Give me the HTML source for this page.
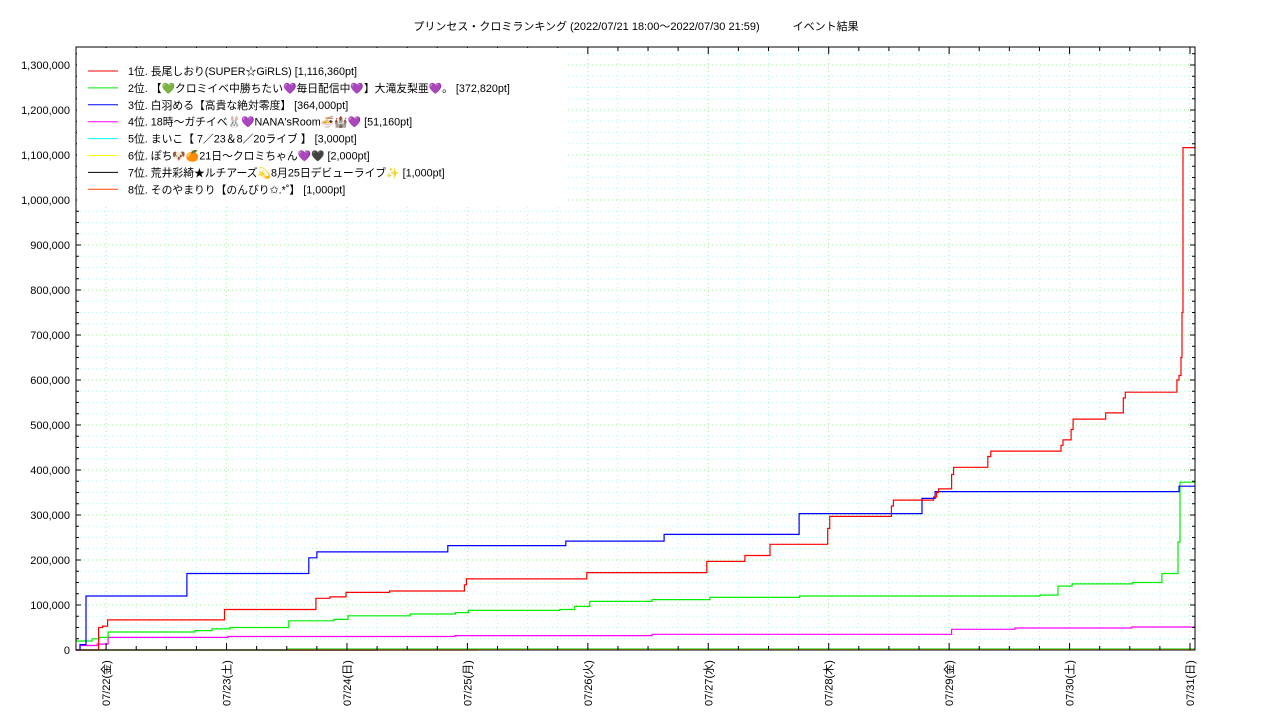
<!DOCTYPE html>
<html><head><meta charset="utf-8"><style>
html,body{margin:0;padding:0;background:#fff;}
svg{display:block;font-family:"Liberation Sans","Noto Sans CJK JP",sans-serif;}
</style></head><body>
<svg id="chart" width="1280" height="720" viewBox="0 0 1280 720">
<text x="636" y="30" font-size="11" text-anchor="middle">プリンセス・クロミランキング (2022/07/21 18:00〜2022/07/30 21:59)　　　イベント結果</text>
<g id="grid"></g>
<g id="series"></g>
<g id="axes"></g>
<g id="legend"></g>
</svg>
<script>
// time in hours since 07/21 18:00, values in points
const dayLabels = ["07/22(金)","07/23(土)","07/24(日)","07/25(月)","07/26(火)","07/27(水)","07/28(木)","07/29(金)","07/30(土)","07/31(日)"];
const yTicks = [0,100000,200000,300000,400000,500000,600000,700000,800000,900000,1000000,1100000,1200000,1300000];
const legendNames = ["1位. 長尾しおり(SUPER☆GiRLS) [1,116,360pt]","2位. 【💚クロミイベ中勝ちたい💜毎日配信中💜】大滝友梨亜💜。 [372,820pt]","3位. 白羽める【高貴な絶対零度】 [364,000pt]","4位. 18時〜ガチイベ🐰💜NANA'sRoom🍜🏰💜 [51,160pt]","5位. まいこ【 7／23＆8／20ライブ 】 [3,000pt]","6位. ぽち🐶🍊21日〜クロミちゃん💜🖤 [2,000pt]","7位. 荒井彩綺★ルチアーズ💫8月25日デビューライブ✨ [1,000pt]","8位. そのやまりり【のんびり✩.*˚】 [1,000pt]"];
const colors = ["#ff0000","#00ee00","#0000ff","#ff00ff","#00ffff","#ffff00","#000000","#ff4500"];
const s1t=[0,4.5,5.3,6.3,29.6,47.8,50.6,53.8,62.5,77.4,77.8,101.8,125.7,133.3,138.3,149.8,150.2,162.5,162.9,170.9,171.5,171.9,174.5,174.9,181.7,182.3,196.3,196.7,198.3,198.7,205.2,208.7,209.1,219.4,219.8,220.2,220.4,220.6,223];
const s1v=[0,50000,53000,67000,90000,115000,118000,128000,131000,145000,158000,172000,197000,210000,235000,270000,297000,320000,333000,340000,350000,358000,390000,406000,430000,442000,455000,467000,490000,513000,527000,560000,573000,600000,610000,650000,750000,1116360,1116360];
const s2t=[0,3.2,4.6,6.4,23.7,27.1,30.7,42.4,51.4,54.2,66.6,75.6,78.2,96.4,99.4,102.4,114.8,126.3,144.2,192.1,195.7,198.5,210.6,216.4,219.6,220.0,223];
const s2v=[20000,25000,28000,40000,43000,47000,50000,65000,68000,76000,80000,83000,88000,90000,97000,108000,112000,117000,120000,122000,142000,147000,150000,170000,240000,372820,372820];
const s3t=[0,0.8,2.0,22.1,46.4,48.0,74.1,97.6,117.2,144.1,168.6,171.2,219.8,223];
const s3v=[0,12000,120000,170000,205000,218000,232000,242000,257000,303000,337000,352000,364000,364000];
const s4t=[0,0.8,4.2,6.4,30.3,75.5,114.8,174.5,187.1,210.4,223];
const s4v=[0,10000,13000,28000,30000,32000,35000,46000,49000,51160,51160];
const s5t=[0,42.0,223], s5v=[0,3000,3000];
const s6t=[0,42.0,223], s6v=[0,2000,2000];
const s7t=[0,60.0,223], s7v=[0,1000,1000];
const s8t=[0,80.0,223], s8v=[0,1000,1000];
const seriesT=[s1t,s2t,s3t,s4t,s5t,s6t,s7t,s8t];
const seriesV=[s1v,s2v,s3v,s4v,s5v,s6v,s7v,s8v];

const L=76,R=1195,T=47,B=650;
const pxH=5.018, pxV=45/100000;
const X=h=>L+h*pxH;
const Y=v=>B-v*pxV;
const NS="http://www.w3.org/2000/svg";
function mk(tag,attrs,parent){const e=document.createElementNS(NS,tag);for(const k in attrs)e.setAttribute(k,attrs[k]);parent.appendChild(e);return e;}
const grid=document.getElementById('grid'),axes=document.getElementById('axes'),ser=document.getElementById('series'),leg=document.getElementById('legend');
for(let v=25000;v<=1340000;v+=25000){const major=v%100000===0;const l=mk('line',{x1:L,x2:R,y1:Y(v),y2:Y(v),stroke:major?'#a0f0a0':'#b8f4f4','stroke-width':1,'stroke-dasharray':'1,3'},grid);

}
for(let h=6;h<223;h+=6){const major=(h-6)%24===0;const l=mk('line',{x1:X(h),x2:X(h),y1:T,y2:B,stroke:major?'#a0f0a0':'#b8f4f4','stroke-width':1,'stroke-dasharray':'1,3'},grid);

}
const order=[6,7,4,3,1,2,0,5];
order.forEach(i=>{const t=seriesT[i],v=seriesV[i];let d='M'+X(t[0])+','+Y(v[0]);
for(let k=1;k<t.length;k++){d+=' H'+X(t[k]).toFixed(1)+' V'+Y(v[k]).toFixed(1);}
const p=mk('path',{d:d,fill:'none',stroke:i===5?'#e8c800':colors[i],'stroke-width':1.2},ser);

});
const lb=mk('rect',{x:L+1,y:T+1,width:488,height:158,fill:'#fff'},leg);


legendNames.forEach((n,i)=>{const y=71+i*16.9;
const g=mk('g',{},leg);


mk('line',{x1:88,x2:118,y1:y,y2:y,stroke:colors[i],'stroke-width':1},g);
const tx=mk('text',{x:128,y:y+4,'font-size':10.8},g);tx.textContent=n;});
const fr=mk('rect',{x:L,y:T,width:R-L,height:B-T,fill:'none',stroke:'#000','stroke-width':1},axes);


for(let v=0;v<=1340000;v+=25000){const major=v%100000===0;const w=major?5:3;
mk('line',{x1:L,x2:L+w,y1:Y(v),y2:Y(v),stroke:'#000'},axes);
mk('line',{x1:R,x2:R-w,y1:Y(v),y2:Y(v),stroke:'#000'},axes);}
yTicks.forEach(v=>{const t=mk('text',{x:70,y:Y(v)+4,'font-size':11,'text-anchor':'end'},axes);t.textContent=v.toLocaleString('en-US');

});
for(let h=0;h<=223;h+=6){const major=(h-6)%24===0;const w=major?7:4;
mk('line',{x1:X(h),x2:X(h),y1:B,y2:B-w,stroke:'#000'},axes);
mk('line',{x1:X(h),x2:X(h),y1:T,y2:T+w,stroke:'#000'},axes);}
dayLabels.forEach((d,i)=>{const x=X(6+24*i)+4;const t=mk('text',{x:x,y:706,'font-size':11,transform:'rotate(-90 '+x+' 706)'},axes);t.textContent=d;

});
</script>
</body></html>
